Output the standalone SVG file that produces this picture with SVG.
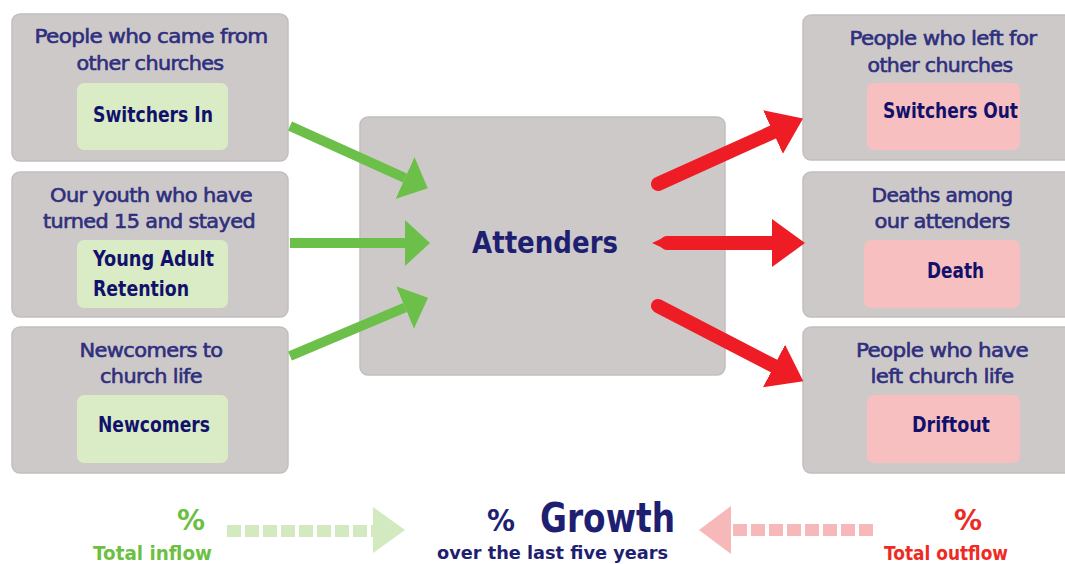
<svg xmlns="http://www.w3.org/2000/svg" width="1065" height="564" viewBox="0 0 1065 564">
<style>
.box{fill:#cdc9c9;stroke:#c2bebe;stroke-width:1.5}
.gin{fill:#d9ecc5}
.pin{fill:#f7bfbf}
.desc{font-family:"DejaVu Sans","Verdana",sans-serif;font-size:20px;fill:#2f2f7d;stroke:#2f2f7d;stroke-width:0.6px;text-anchor:middle;letter-spacing:-0.6px}
.lab{font-family:"DejaVu Sans Condensed","DejaVu Sans",sans-serif;font-weight:bold;font-size:21px;fill:#11116b}
.g{stroke:#6cc04a;stroke-width:10;fill:none}
.r{stroke:#ee1c24;stroke-width:14;fill:none;stroke-linecap:round}
.big{font-family:"DejaVu Sans",sans-serif;font-weight:bold}
</style>
<defs>
<marker id="gh" markerUnits="userSpaceOnUse" markerWidth="26" markerHeight="46" refX="0" refY="23" orient="auto" viewBox="0 0 26 46"><path d="M0,0 L25,23 L0,46 z" fill="#6cc04a"/></marker>
<marker id="rh" markerUnits="userSpaceOnUse" markerWidth="34" markerHeight="48" refX="0" refY="24" orient="auto" viewBox="0 0 34 48"><path d="M0,0 L33,24 L0,48 z" fill="#ee1c24"/></marker>
<marker id="rt" markerUnits="userSpaceOnUse" markerWidth="16" markerHeight="14" refX="15" refY="7" orient="auto" viewBox="0 0 16 14"><path d="M15,0 L0,7 L15,14 z" fill="#ee1c24"/></marker>
</defs>

<g id="switchers-in">
<rect class="box" x="12" y="14" width="276" height="147" rx="8"/>
<text class="desc" x="151" y="43" textLength="233" lengthAdjust="spacingAndGlyphs">People who came from</text>
<text class="desc" x="150" y="70" textLength="147" lengthAdjust="spacingAndGlyphs">other churches</text>
<rect class="gin" x="77" y="83" width="151" height="67" rx="7"/>
<text class="lab" x="93" y="122" textLength="120" lengthAdjust="spacingAndGlyphs">Switchers In</text>
</g>

<g id="young-adult">
<rect class="box" x="12" y="172" width="276" height="145" rx="8"/>
<text class="desc" x="151" y="202" textLength="202" lengthAdjust="spacingAndGlyphs">Our youth who have</text>
<text class="desc" x="149" y="228" textLength="212" lengthAdjust="spacingAndGlyphs">turned 15 and stayed</text>
<rect class="gin" x="77" y="240" width="151" height="68" rx="7"/>
<text class="lab" x="93" y="266" textLength="121" lengthAdjust="spacingAndGlyphs">Young Adult</text>
<text class="lab" x="93" y="296" textLength="96" lengthAdjust="spacingAndGlyphs">Retention</text>
</g>

<g id="newcomers">
<rect class="box" x="12" y="327" width="276" height="146" rx="8"/>
<text class="desc" x="151" y="357" textLength="143" lengthAdjust="spacingAndGlyphs">Newcomers to</text>
<text class="desc" x="151" y="383" textLength="102" lengthAdjust="spacingAndGlyphs">church life</text>
<rect class="gin" x="77" y="395" width="151" height="68" rx="7"/>
<text class="lab" x="98" y="432" textLength="112" lengthAdjust="spacingAndGlyphs">Newcomers</text>
</g>

<g id="attenders">
<rect class="box" x="360" y="117" width="365" height="258" rx="8"/>
<text class="big" x="472" y="253" font-size="30" fill="#1f1f72" textLength="146" lengthAdjust="spacingAndGlyphs">Attenders</text>
</g>

<g id="switchers-out">
<rect class="box" x="803" y="15" width="280" height="145" rx="8"/>
<text class="desc" x="943" y="45" textLength="187" lengthAdjust="spacingAndGlyphs">People who left for</text>
<text class="desc" x="940" y="72" textLength="145" lengthAdjust="spacingAndGlyphs">other churches</text>
<rect class="pin" x="867" y="83" width="153" height="67" rx="7"/>
<text class="lab" x="883" y="118" textLength="135" lengthAdjust="spacingAndGlyphs">Switchers Out</text>
</g>

<g id="death">
<rect class="box" x="803" y="172" width="280" height="145" rx="8"/>
<text class="desc" x="942" y="202" textLength="141" lengthAdjust="spacingAndGlyphs">Deaths among</text>
<text class="desc" x="942" y="228" textLength="135" lengthAdjust="spacingAndGlyphs">our attenders</text>
<rect class="pin" x="864" y="240" width="156" height="68" rx="7"/>
<text class="lab" x="927" y="278" textLength="57" lengthAdjust="spacingAndGlyphs">Death</text>
</g>

<g id="driftout">
<rect class="box" x="803" y="327" width="280" height="146" rx="8"/>
<text class="desc" x="942" y="357" textLength="172" lengthAdjust="spacingAndGlyphs">People who have</text>
<text class="desc" x="942" y="383" textLength="143" lengthAdjust="spacingAndGlyphs">left church life</text>
<rect class="pin" x="867" y="395" width="153" height="68" rx="7"/>
<text class="lab" x="912" y="432" textLength="78" lengthAdjust="spacingAndGlyphs">Driftout</text>
</g>

<g id="connectors">
<line class="g" x1="290" y1="126" x2="405" y2="178" marker-end="url(#gh)"/>
<line class="g" x1="290" y1="243" x2="405" y2="243" marker-end="url(#gh)"/>
<line class="g" x1="290" y1="356" x2="405" y2="307.5" marker-end="url(#gh)"/>
<line class="r" x1="658" y1="184" x2="773" y2="132" marker-end="url(#rh)"/>
<line class="r" x1="667" y1="243" x2="772" y2="243" stroke-linecap="butt" marker-start="url(#rt)" marker-end="url(#rh)"/>
<line class="r" x1="658" y1="306" x2="774" y2="366" marker-end="url(#rh)"/>
</g>

<g id="summary">
<text class="big" x="191" y="530" font-size="28" fill="#6cbf42" text-anchor="middle">%</text>
<text class="big" x="93" y="560" font-size="20" fill="#6cbf42" textLength="119" lengthAdjust="spacingAndGlyphs">Total inflow</text>
<line x1="227" y1="531" x2="373" y2="531" stroke="#d3e9bf" stroke-width="12" stroke-dasharray="14 4"/>
<path d="M373,507 L405,530 L373,553 z" fill="#d3e9bf"/>

<text class="big" x="487" y="531" font-size="30" fill="#1f1f72" textLength="28" lengthAdjust="spacingAndGlyphs">%</text>
<text class="big" x="540" y="532" font-size="40" fill="#1f1f72" textLength="135" lengthAdjust="spacingAndGlyphs">Growth</text>
<text class="big" x="437" y="559" font-size="18" fill="#1f1f72" textLength="231" lengthAdjust="spacingAndGlyphs">over the last five years</text>

<line x1="733" y1="530" x2="875" y2="530" stroke="#f6b8b8" stroke-width="12" stroke-dasharray="14 4"/>
<path d="M731,506 L699,530 L731,554 z" fill="#f6b8b8"/>
<text class="big" x="968" y="530" font-size="28" fill="#ee2a24" text-anchor="middle">%</text>
<text class="big" x="884" y="560" font-size="20" fill="#ee2a24" textLength="124" lengthAdjust="spacingAndGlyphs">Total outflow</text>
</g>
</svg>
